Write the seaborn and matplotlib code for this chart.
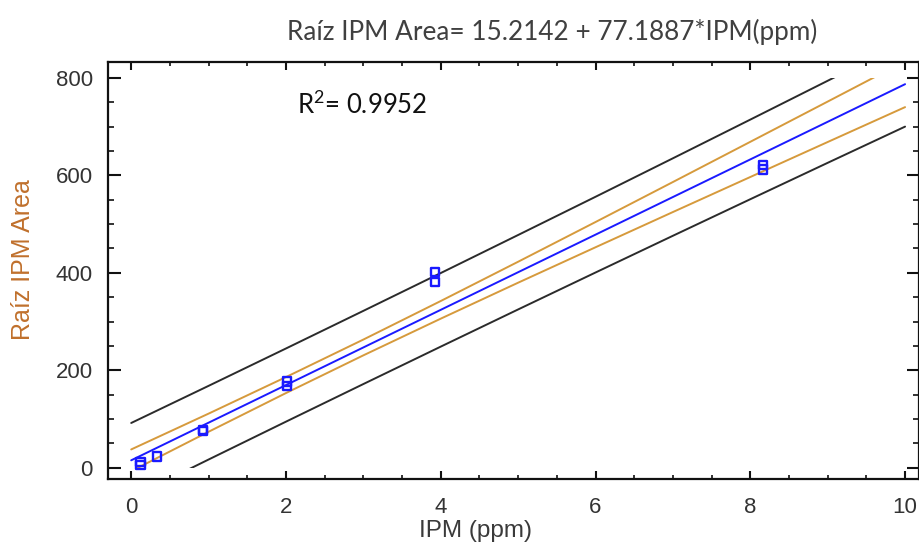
import matplotlib
matplotlib.use("Agg")
import matplotlib.pyplot as plt
import seaborn as sns
import pandas as pd
from matplotlib.patches import Rectangle
from matplotlib.ticker import MultipleLocator

# ---- data ----
ipm_ppm = [0.12, 0.12, 0.33, 0.93, 0.93, 2.01, 2.01, 3.92, 3.92, 8.16, 8.16]
raiz_area = [12, 5, 23, 78, 75, 177, 167, 402, 382, 621, 612]

grid_x = [0, 1, 2, 3, 4, 5, 6, 7, 8, 9, 10]
fit_y = [15.2, 92.4, 169.6, 246.8, 324.0, 401.2, 478.3, 555.5, 632.7, 709.9, 787.1]
conf_upper = [37.5, 111.0, 186.0, 263.0, 342.1, 422.7, 504.2, 586.3, 668.8, 751.4, 834.2]
conf_lower = [-7.1, 73.8, 153.2, 230.6, 305.9, 379.7, 452.4, 524.7, 596.6, 668.4, 740.0]
pred_upper = [91.8, 168.0, 244.7, 321.9, 399.5, 477.6, 556.0, 635.0, 714.4, 794.1, 874.2]
pred_lower = [-61.4, 16.8, 94.5, 171.7, 248.5, 324.8, 400.6, 476.0, 551.0, 625.7, 700.0]

title_text = "Raíz IPM Area= 15.2142 + 77.1887*IPM(ppm)"
r2_text = "R$^{2}$= 0.9952"
x_label = "IPM (ppm)"
y_label = "Raíz IPM Area"

points = pd.DataFrame({"x": ipm_ppm, "y": raiz_area})
lines = pd.DataFrame({"x": grid_x, "fit": fit_y, "cu": conf_upper, "cl": conf_lower,
                      "pu": pred_upper, "pl": pred_lower})

sns.set_theme(style="ticks")
plt.rcParams["font.family"] = ["Liberation Sans", "DejaVu Sans"]
plt.rcParams["mathtext.default"] = "regular"

fig = plt.figure(figsize=(9.2, 5.48), dpi=100)
ax = fig.add_axes([108 / 920, 1 - 479.3 / 548, (919 - 108) / 920, (479.3 - 62.3) / 548])

xmin, xmax = -0.30, 10.18
ymin, ymax = -23.8, 832.0
ax.set_xlim(xmin, xmax)
ax.set_ylim(ymin, ymax)

clip = Rectangle((xmin, 0), xmax - xmin, 800, transform=ax.transData, visible=False)
ax.add_patch(clip)

black = "#2b2b2b"
orange = "#d69a3c"
blue = "#1a1aff"
for col, color in [("pu", black), ("pl", black), ("cu", orange), ("cl", orange), ("fit", blue)]:
    sns.lineplot(data=lines, x="x", y=col, ax=ax, color=color, lw=1.4,
                 estimator=None, sort=False)
for ln in ax.get_lines():
    ln.set_clip_path(clip)

sns.scatterplot(data=points, x="x", y="y", ax=ax, marker="s", s=34,
                facecolor="none", edgecolor=blue, linewidth=1.7, zorder=5)

ax.xaxis.set_major_locator(MultipleLocator(2))
ax.xaxis.set_minor_locator(MultipleLocator(0.5))
ax.yaxis.set_major_locator(MultipleLocator(200))
ax.yaxis.set_minor_locator(MultipleLocator(50))
ax.tick_params(which="both", direction="in", top=True, right=True, colors="#111111",
               labelcolor="#333333", labelsize=16)
ax.tick_params(axis="y", which="major", length=9, width=1.5, pad=11)
ax.tick_params(axis="y", which="minor", length=4, width=1.2)
ax.tick_params(axis="x", which="major", length=6, width=1.5, pad=13)
ax.tick_params(axis="x", which="minor", length=3, width=1.2)
for sp in ax.spines.values():
    sp.set_linewidth(1.6)
    sp.set_color("#111111")

ax.set_xlabel(x_label, fontsize=17.5, color="#3a3a3a")
ax.xaxis.set_label_coords((476 - 108) / 811, -(520 - 479.3) / 417)
ax.set_ylabel(y_label, fontsize=18, color="#c0702c")
ax.yaxis.set_label_coords(-(108 - 35) / 811, (479.3 - 260) / 417)

fig.text(552 / 920, 1 - 32 / 548, title_text, ha="center", va="center",
         fontsize=18.8, color="#404040", family=["Lato", "DejaVu Sans"])
ax.text(2.14, 744, r2_text, ha="left", va="center", fontsize=18.5, color="#111111",
        family=["Lato", "DejaVu Sans"])

fig.savefig("out.png", dpi=100)
